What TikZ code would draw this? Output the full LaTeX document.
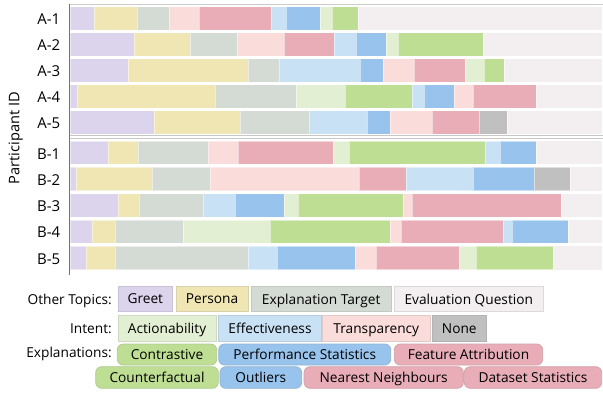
\documentclass[tikz,border=0pt]{standalone}
\usepackage{fontspec}
\setmainfont{Open Sans}
\definecolor{cG}{RGB}{220,211,236}
\definecolor{cP}{RGB}{240,230,180}
\definecolor{cE}{RGB}{212,218,212}
\definecolor{cBg}{RGB}{243,239,240}
\definecolor{cAc}{RGB}{227,239,211}
\definecolor{cEf}{RGB}{200,225,245}
\definecolor{cT}{RGB}{250,220,218}
\definecolor{cN}{RGB}{192,192,192}
\definecolor{cC}{RGB}{190,222,148}
\definecolor{cB}{RGB}{152,195,236}
\definecolor{cX}{RGB}{232,173,183}
\newcommand\partbar[2]{%
  \fill[cBg] (70,#1) rectangle (602,{#1+23.4});
  \foreach \c/\e [remember=\e as \s (initially 70)] in {#2}{%
    \fill[\c,draw=white,draw opacity=0.5,line width=0.3pt] (\s,#1) rectangle (\e,{#1+23.4});
  }%
}
\begin{document}
\begin{tikzpicture}[x=1pt,y=-1pt,
  rowlab/.style={anchor=east,font=\fontsize{15}{18}\selectfont,inner sep=0pt},
  leglab/.style={anchor=base east,font=\fontsize{13.7}{16}\selectfont,inner sep=0pt},
  legbox/.style={draw=#1!80!gray,fill=#1,line width=0.8pt,font=\fontsize{13.7}{16}\selectfont,inner sep=0pt,text depth=0pt},
  explbox/.style={draw=#1!80!gray,fill=#1,line width=0.8pt,rounded corners=6pt,font=\fontsize{13.7}{16}\selectfont,inner sep=0pt,text depth=0pt}]
\useasboundingbox[fill=white] (0,0) rectangle (603,392);
% bars
\partbar{6.5}{cG/94,cP/136.7,cE/169,cT/199.3,cX/270.7,cEf/286,cB/320,cAc/331.7,cC/358.3}
\partbar{32.5}{cG/134,cP/190,cE/236.7,cT/284.3,cX/334,cEf/355.7,cB/386,cAc/397.7,cC/483.3}
\partbar{58.6}{cG/128.3,cP/248.3,cE/279,cEf/360,cB/382.7,cT/414,cX/465.3,cAc/483.7,cC/504}
\partbar{84.5}{cG/77.3,cP/215.3,cE/296,cAc/345,cC/412,cEf/424,cB/453.7,cT/473,cX/536.3}
\partbar{110.6}{cG/154.3,cP/240,cE/308.7,cEf/366.7,cB/390,cT/432,cX/479,cN/506.7}
\partbar{141}{cG/107.7,cP/137.7,cE/207.7,cT/237.7,cX/333.3,cAc/349.3,cC/485.3,cEf/500,cB/536.3}
\partbar{167.2}{cG/76,cP/152.3,cE/209.7,cT/359,cX/405.7,cEf/472.7,cB/533.7,cN/570.3}
\partbar{193.6}{cG/118,cP/139.3,cE/203.3,cEf/235,cB/283.7,cAc/298.3,cC/403.3,cT/412,cX/560.7}
\partbar{219.9}{cG/91.7,cP/115,cE/183,cAc/270,cC/390,cT/401,cX/503.3,cEf/512,cB/568.3}
\partbar{246.2}{cG/85.7,cP/115,cE/248.3,cEf/277,cB/355,cT/376,cX/459,cAc/475.7,cC/552.7}
% axis lines
\draw[black!20,line width=0.9pt] (69.5,4.5) -- (603,4.5);
\draw[black!22,line width=0.8pt] (69.5,135.8) -- (603,135.8);
\draw[black!22,line width=0.8pt] (69.5,138.2) -- (603,138.2);
\draw[black!55,line width=0.9pt] (69.5,4) -- (69.5,275);
% row labels
\node[rowlab] (lA1) at (60.5,19.2) {A-1};
\node[rowlab] (lA2) at (60.5,45.2) {A-2};
\node[rowlab] (lA3) at (60.5,71.3) {A-3};
\node[rowlab] (lA4) at (60.5,97.2) {A-4};
\node[rowlab] (lA5) at (60.5,123.3) {A-5};
\node[rowlab] (lB1) at (60.5,153.7) {B-1};
\node[rowlab] (lB2) at (60.5,179.9) {B-2};
\node[rowlab] (lB3) at (60.5,206.3) {B-3};
\node[rowlab] (lB4) at (60.5,232.6) {B-4};
\node[rowlab] (lB5) at (60.5,258.9) {B-5};
\node[rotate=90,font=\fontsize{14.6}{17}\selectfont,inner sep=0pt,anchor=base] (ylab) at (19.5,138) {Participant ID};
% legend labels
\node[leglab] (lt) at (112,304.3) {Other Topics:};
\node[leglab] (li) at (112,333.3) {Intent:};
\node[leglab] (le) at (112,357.7) {Explanations:};
% other topics
\node[legbox=cG,minimum width=54.7pt,minimum height=25.3pt] (g1) at (145.3,299) {Greet};
\node[legbox=cP,minimum width=72pt,minimum height=25.3pt] (g2) at (212,299) {Persona};
\node[legbox=cE,minimum width=139.7pt,minimum height=25.3pt] (g3) at (321.2,299) {Explanation Target};
\node[legbox=cBg,minimum width=149pt,minimum height=25.3pt] (g4) at (468.8,299) {Evaluation Question};
% intent
\node[legbox=cAc,minimum width=98pt,minimum height=26.5pt] (i1) at (167,328.3) {Actionability};
\node[legbox=cEf,minimum width=103.4pt,minimum height=26.5pt] (i2) at (270,328.3) {Effectiveness};
\node[legbox=cT,minimum width=107.3pt,minimum height=26.5pt] (i3) at (376.3,328.3) {Transparency};
\node[legbox=cN,minimum width=53.3pt,minimum height=26.5pt] (i4) at (459.3,328.3) {None};
% explanations
\node[explbox=cC,minimum width=99.4pt,minimum height=21pt] (e1) at (167,354.5) {Contrastive};
\node[explbox=cB,minimum width=172pt,minimum height=21pt] (e2) at (304.7,354.5) {Performance Statistics};
\node[explbox=cX,minimum width=148.4pt,minimum height=21pt] (e3) at (468.5,354.5) {Feature Attribution};
\node[explbox=cC,minimum width=122.6pt,minimum height=21.6pt] (e4) at (157,377.5) {Counterfactual};
\node[explbox=cB,minimum width=81.7pt,minimum height=21.6pt] (e5) at (260.8,377.5) {Outliers};
\node[explbox=cX,minimum width=159.3pt,minimum height=21.6pt] (e6) at (383.7,377.5) {Nearest Neighbours};
\node[explbox=cX,minimum width=137.4pt,minimum height=21.6pt] (e7) at (533,377.5) {Dataset Statistics};
\end{tikzpicture}
\end{document}
